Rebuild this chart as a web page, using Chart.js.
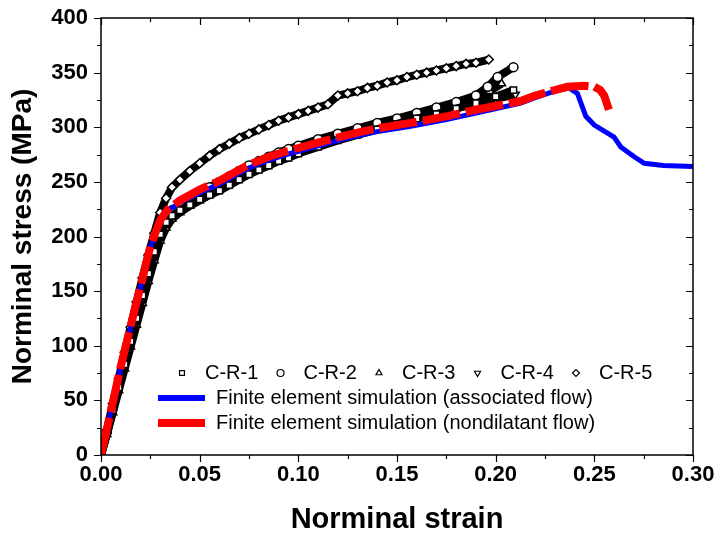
<!DOCTYPE html>
<html>
<head>
<meta charset="utf-8">
<script src="https://cdn.jsdelivr.net/npm/chart.js@4.4.1/dist/chart.umd.min.js"></script>
<style>
  body { margin: 0; background: #fff; }
  #wrap { width: 714px; height: 538px; }
</style>
</head>
<body>
<div id="wrap"><canvas id="curve"></canvas></div>
<script>
// tick labels
var xTicks = [0, 0.05, 0.10, 0.15, 0.20, 0.25, 0.30];
var yTicks = [0, 50, 100, 150, 200, 250, 300, 350, 400];

// experiments (strain, stress in MPa)
var cr1Strain = [0, 0.003, 0.006, 0.009, 0.012, 0.015, 0.018, 0.021, 0.024, 0.027, 0.030, 0.033, 0.036, 0.040, 0.045, 0.050, 0.055, 0.060, 0.065, 0.070, 0.075, 0.080, 0.085, 0.090, 0.095, 0.100, 0.110, 0.120, 0.130, 0.140, 0.150, 0.160, 0.170, 0.180, 0.190, 0.200, 0.209];
var cr1Stress = [0, 20, 41, 62, 83, 104, 125, 146, 166, 186, 202, 213, 219, 224, 229, 234, 238, 242, 247, 252, 257, 261, 265, 269, 272, 276, 282, 288, 293, 298, 303, 308, 312, 317, 322, 328, 334];

var cr2Strain = [0, 0.003, 0.006, 0.009, 0.012, 0.015, 0.018, 0.021, 0.024, 0.027, 0.030, 0.033, 0.036, 0.040, 0.045, 0.050, 0.055, 0.060, 0.065, 0.070, 0.075, 0.080, 0.085, 0.090, 0.095, 0.100, 0.110, 0.120, 0.130, 0.140, 0.150, 0.160, 0.170, 0.180, 0.190, 0.196, 0.201, 0.209];
var cr2Stress = [0, 21, 43, 65, 87, 109, 131, 152, 172, 191, 206, 217, 224, 229, 235, 240, 245, 250, 255, 260, 265, 269, 273, 277, 280, 283, 289, 294, 299, 304, 308, 313, 318, 323, 329, 337, 346, 355];

var cr3Strain = [0, 0.003, 0.006, 0.009, 0.012, 0.015, 0.018, 0.021, 0.024, 0.027, 0.030, 0.033, 0.036, 0.040, 0.045, 0.050, 0.055, 0.060, 0.065, 0.070, 0.075, 0.080, 0.085, 0.090, 0.095, 0.100, 0.110, 0.120, 0.130, 0.140, 0.150, 0.160, 0.170, 0.180, 0.190, 0.197, 0.203];
var cr3Stress = [0, 19, 39, 59, 79, 99, 119, 139, 159, 178, 196, 208, 216, 222, 228, 233, 238, 243, 248, 253, 258, 263, 267, 271, 275, 279, 285, 291, 296, 301, 306, 311, 316, 321, 327, 333, 340];

var cr4Strain = [0, 0.003, 0.006, 0.009, 0.012, 0.015, 0.018, 0.021, 0.024, 0.027, 0.030, 0.033, 0.036, 0.040, 0.045, 0.050, 0.055, 0.060, 0.065, 0.070, 0.075, 0.080, 0.085, 0.090, 0.095, 0.100, 0.110, 0.120, 0.130, 0.140, 0.150, 0.160, 0.170, 0.180, 0.190, 0.200, 0.210];
var cr4Stress = [0, 20, 42, 63, 84, 106, 127, 148, 168, 188, 204, 215, 222, 227, 232, 237, 241, 246, 251, 256, 261, 265, 269, 273, 277, 280, 286, 292, 297, 302, 306, 311, 315, 319, 323, 326, 330];

var cr5Strain = [0, 0.003, 0.006, 0.009, 0.012, 0.015, 0.018, 0.021, 0.024, 0.027, 0.030, 0.033, 0.036, 0.040, 0.045, 0.050, 0.055, 0.060, 0.065, 0.070, 0.075, 0.080, 0.085, 0.090, 0.095, 0.100, 0.105, 0.110, 0.115, 0.120, 0.125, 0.130, 0.135, 0.140, 0.145, 0.150, 0.155, 0.160, 0.165, 0.170, 0.175, 0.180, 0.185, 0.190, 0.1965];
var cr5Stress = [0, 23, 47, 70, 94, 117, 140, 162, 183, 203, 222, 235, 245, 252, 260, 267, 274, 280, 285, 290, 294, 298, 302, 306, 309, 312, 315, 318, 321, 329, 331, 333, 336, 338, 341, 343, 346, 348, 350, 352, 354, 356, 358, 359, 362];

// finite element simulations
var assocStrain = [0, 0.005, 0.010, 0.015, 0.020, 0.025, 0.030, 0.034, 0.040, 0.050, 0.060, 0.074, 0.085, 0.096, 0.110, 0.125, 0.140, 0.157, 0.175, 0.190, 0.2127, 0.220, 0.228, 0.2364, 0.2414, 0.2457, 0.250, 0.260, 0.2634, 0.2702, 0.2753, 0.285, 0.300];
var assocStress = [0, 40, 80, 117, 153, 190, 214, 224, 231, 240, 248, 262, 270, 276, 283, 290, 296, 301, 307, 313, 322, 327, 332, 337, 331, 310, 302, 291, 282, 273, 267, 265, 264];

var nondilStrain = [0, 0.005, 0.010, 0.015, 0.020, 0.025, 0.030, 0.034, 0.040, 0.050, 0.060, 0.074, 0.085, 0.096, 0.110, 0.125, 0.140, 0.157, 0.175, 0.190, 0.2127, 0.220, 0.230, 0.2364, 0.245, 0.250, 0.253, 0.255, 0.2574];
var nondilStress = [0, 40, 81, 118, 154, 191, 215, 225, 233, 243, 251, 265, 273, 279, 286, 293, 299, 304, 310, 316, 324, 329, 334, 337, 338, 337, 334, 329, 316];

function pairs(xs, ys) {
  return xs.map(function(x, i) { return { x: x, y: ys[i] }; });
}

function expSet(label, xs, ys, style, rot) {
  return {
    label: label,
    data: pairs(xs, ys),
    showLine: true,
    borderColor: '#000',
    borderWidth: 8,
    pointStyle: style,
    rotation: rot || 0,
    pointRadius: 4.5,
    pointBorderWidth: 1.5,
    pointBorderColor: '#000',
    pointBackgroundColor: '#fff',
    order: 5
  };
}

var font = 'Arial, "Liberation Sans", sans-serif';

// frame, minor ticks and the legend drawn by hand
var framePlugin = {
  id: 'frame',
  afterDraw: function(chart) {
    var ctx = chart.ctx, a = chart.chartArea;
    var xs = chart.scales.x, ys = chart.scales.y;
    ctx.save();
    ctx.strokeStyle = '#000';
    ctx.lineWidth = 1.5;
    ctx.strokeRect(a.left, a.top, a.right - a.left, a.bottom - a.top);
    ctx.lineWidth = 1.2;
    ctx.beginPath();
    for (var v = 0; v <= 400.001; v += 25) {
      var py = Math.round(ys.getPixelForValue(v)) + 0.5;
      var len = (v % 50 === 0) ? 7 : 4;
      ctx.moveTo(a.left - len, py); ctx.lineTo(a.left, py);
      ctx.moveTo(a.right, py); ctx.lineTo(a.right - len, py);
    }
    for (var k = 0; k <= 12; k++) {
      var px = Math.round(xs.getPixelForValue(k * 0.025)) + 0.5;
      var l2 = (k % 2 === 0) ? 7 : 4;
      ctx.moveTo(px, a.bottom); ctx.lineTo(px, a.bottom + l2);
      ctx.moveTo(px, a.top); ctx.lineTo(px, a.top + l2);
    }
    ctx.stroke();

    // legend
    var sets = chart.data.datasets;
    ctx.font = '20px ' + font;
    ctx.fillStyle = '#000';
    ctx.textBaseline = 'middle';
    var rowY = 373;
    for (var i = 0; i < 5; i++) {
      var ds = sets[i + 2];
      var mx = 182 + i * 98.5;
      ctx.strokeStyle = '#000';
      ctx.fillStyle = '#fff';
      ctx.lineWidth = 1.2;
      Chart.helpers.drawPoint(ctx, { pointStyle: ds.pointStyle, rotation: ds.rotation, radius: 3.5, borderWidth: 1.2 }, mx, rowY);
      ctx.fillStyle = '#000';
      ctx.fillText(ds.label, mx + 23, rowY);
    }
    var lineRows = [[sets[1], 398], [sets[0], 423]];
    lineRows.forEach(function(r) {
      ctx.strokeStyle = r[0].borderColor;
      ctx.lineWidth = r[0] === sets[0] ? 8 : 6;
      ctx.setLineDash([]);
      ctx.beginPath();
      ctx.moveTo(158, r[1]); ctx.lineTo(205, r[1]);
      ctx.stroke();
      ctx.fillStyle = '#000';
      ctx.fillText(r[0].label, 216, r[1]);
    });
    ctx.restore();
  }
};

new Chart(document.getElementById('curve').getContext('2d'), {
  type: 'scatter',
  data: {
    datasets: [
      {
        label: 'Finite element simulation (nondilatant flow)',
        data: pairs(nondilStrain, nondilStress),
        showLine: true,
        borderColor: '#ff0000',
        borderWidth: 8,
        borderDash: [38, 6],
        pointRadius: 0,
        order: 0
      },
      {
        label: 'Finite element simulation (associated flow)',
        data: pairs(assocStrain, assocStress),
        showLine: true,
        borderColor: '#0000ff',
        borderWidth: 5,
        pointRadius: 0,
        order: 1
      },
      expSet('C-R-1', cr1Strain, cr1Stress, 'rect'),
      expSet('C-R-2', cr2Strain, cr2Stress, 'circle'),
      expSet('C-R-3', cr3Strain, cr3Stress, 'triangle'),
      expSet('C-R-4', cr4Strain, cr4Stress, 'triangle', 180),
      expSet('C-R-5', cr5Strain, cr5Stress, 'rectRot')
    ]
  },
  options: {
    responsive: true,
    maintainAspectRatio: false,
    animation: false,
    layout: { padding: { top: 18, right: 21, left: 0, bottom: 0 } },
    scales: {
      x: {
        type: 'linear',
        min: 0,
        max: 0.3,
        afterBuildTicks: function(scale) {
          scale.ticks = xTicks.map(function(v) { return { value: v }; });
        },
        afterFit: function(scale) {
          scale.height = 83;
          scale.paddingLeft = 0;
          scale.paddingRight = 0;
        },
        grid: { display: false, drawTicks: false },
        border: { display: false },
        ticks: {
          color: '#000',
          padding: 7,
          font: { family: font, size: 22, weight: 'bold' },
          callback: function(v) { return v.toFixed(2); }
        },
        title: {
          display: true,
          text: 'Norminal strain',
          color: '#000',
          font: { family: font, size: 29, weight: 'bold' },
          padding: { top: 0, bottom: 1 }
        }
      },
      y: {
        min: 0,
        max: 400,
        afterBuildTicks: function(scale) {
          scale.ticks = yTicks.map(function(v) { return { value: v }; });
        },
        afterFit: function(scale) {
          scale.width = 101;
          scale.paddingTop = 0;
          scale.paddingBottom = 0;
        },
        grid: { display: false, drawTicks: false },
        border: { display: false },
        ticks: {
          color: '#000',
          padding: 13,
          font: { family: font, size: 22, weight: 'bold' }
        },
        title: {
          display: true,
          text: 'Norminal stress (MPa)',
          color: '#000',
          font: { family: font, size: 28, weight: 'bold' },
          padding: { top: 6, bottom: 0 }
        }
      }
    },
    plugins: {
      legend: { display: false },
      tooltip: { enabled: false }
    }
  },
  plugins: [framePlugin]
});
</script>
</body>
</html>
